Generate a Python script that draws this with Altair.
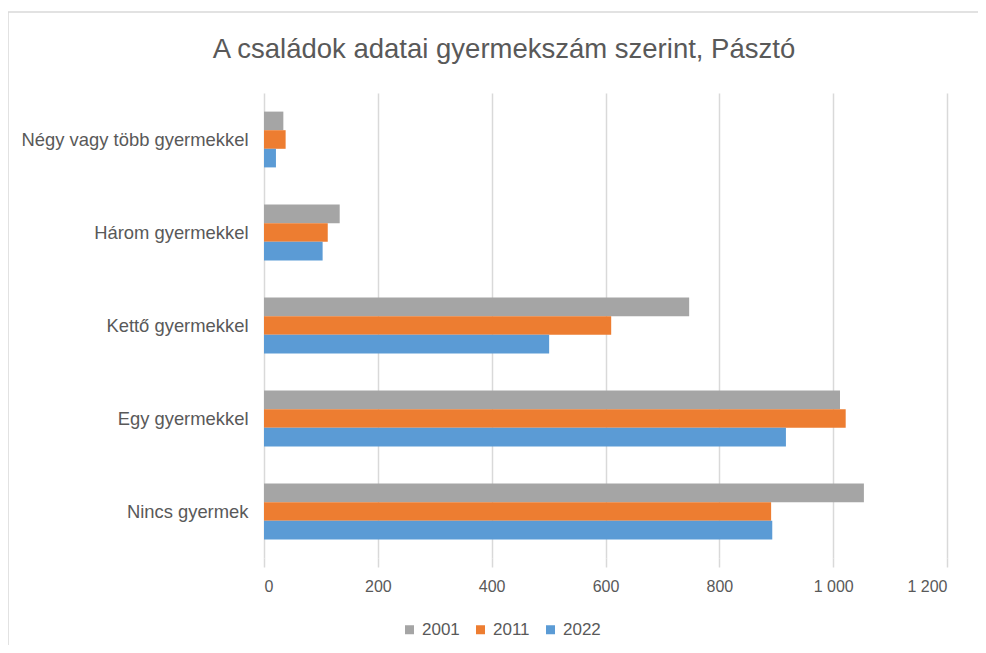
import altair as alt
import pandas as pd

categories = ["Négy vagy több gyermekkel", "Három gyermekkel", "Kettő gyermekkel", "Egy gyermekkel", "Nincs gyermek"]
years = ["2001", "2011", "2022"]
v2001 = [34, 133, 747, 1012, 1054]
v2011 = [38, 112, 610, 1022, 891]
v2022 = [21, 103, 501, 917, 893]
x_ticks = [0, 200, 400, 600, 800, 1000, 1200]
colors = ["#A5A5A5", "#ED7D31", "#5B9BD5"]
title_text = "A családok adatai gyermekszám szerint, Pásztó"

rows = []
for i, c in enumerate(categories):
    for y, vals in zip(years, [v2001, v2011, v2022]):
        rows.append({"cat": c, "year": y, "value": vals[i]})
df = pd.DataFrame(rows)

FONT = "Liberation Sans"
TXT = "#595959"

bars = alt.Chart(df).mark_bar().encode(
    y=alt.Y("cat:N", sort=categories, title=None,
            scale=alt.Scale(paddingInner=0.4, paddingOuter=0.2),
            axis=alt.Axis(domain=False, ticks=False, labelPadding=16, labelFontSize=18.4,
                          labelColor=TXT, labelFont=FONT, labelLimit=400)),
    yOffset=alt.YOffset("year:N", sort=years),
    x=alt.X("value:Q", title=None,
            scale=alt.Scale(domain=[0, 1200], nice=False),
            axis=alt.Axis(values=x_ticks, domain=False, ticks=True, tickSize=9,
                          tickColor="#D9D9D9", tickWidth=1.5, labelPadding=11,
                          labelFontSize=16, labelColor=TXT, labelFont=FONT,
                          gridColor="#D9D9D9", gridWidth=1.5,
                          labelExpr="replace(format(datum.value, 'd'), /(\\d)(\\d{3})$/, '$1 $2')")),
    color=alt.Color("year:N", sort=years, title=None,
                    scale=alt.Scale(domain=years, range=colors),
                    legend=alt.Legend(orient="none", legendX=137, legendY=528, direction="horizontal",
                                      symbolType="square", symbolSize=81, symbolStrokeWidth=0,
                                      labelFontSize=17, labelColor=TXT, labelFont=FONT,
                                      labelOffset=4, columnPadding=12)),
)

frame = alt.Chart(alt.Data(values=[{}])).mark_rect(
    fill="transparent", stroke="#D9D9D9", strokeWidth=1.5
).encode(x=alt.value(-256), x2=alt.value(760), y=alt.value(-81), y2=alt.value(600))

title = alt.Chart(alt.Data(values=[{"t": title_text}])).mark_text(
    font=FONT, fontSize=27.5, color=TXT, align="center", baseline="alphabetic"
).encode(text="t:N", x=alt.value(240), y=alt.value(-35))

chart = alt.layer(frame, bars, title).properties(
    width=683, height=465,
    padding={"left": 256, "top": 85, "right": 31, "bottom": 87},
    autosize=alt.AutoSizeParams(type="none"),
    background="white",
).configure_view(strokeWidth=0, stroke="transparent")

chart.save("out.html", embed_options={"renderer": "svg", "actions": False})
